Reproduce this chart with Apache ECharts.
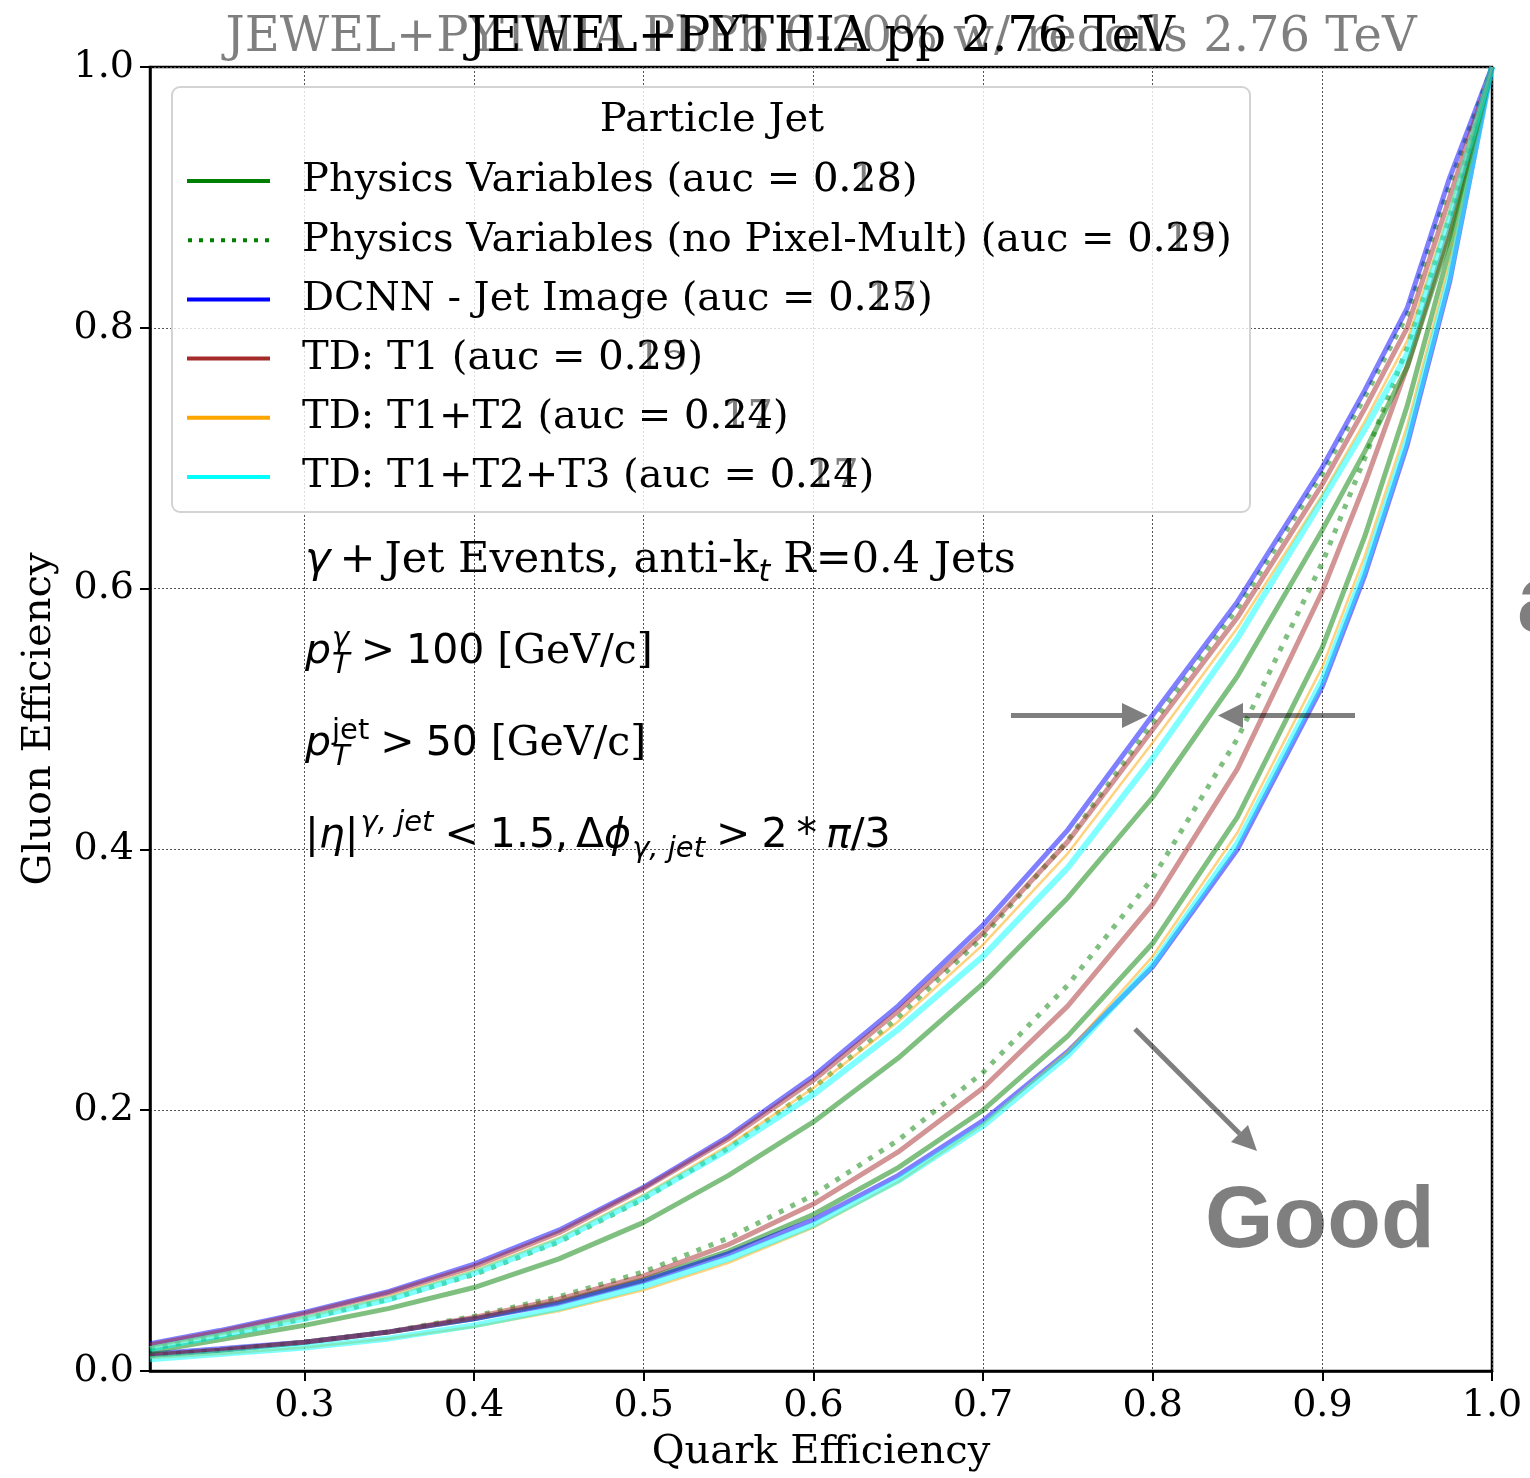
<!DOCTYPE html>
<html><head><meta charset="utf-8">
<script src="https://cdn.jsdelivr.net/npm/echarts@6/dist/echarts.min.js"></script>
<style>html,body{margin:0;padding:0;background:#fff}#c{width:1530px;height:1478px}</style>
</head><body><div id="c"></div>
<script>
// ---------------- data ----------------
const quarkEff = [0.209, 0.25, 0.3, 0.35, 0.4, 0.45, 0.5, 0.55, 0.6, 0.65, 0.7, 0.75, 0.8, 0.85, 0.9, 0.925, 0.95, 0.975, 1.0];

// upper group of curves
const pbpbPhys      = [0.015, 0.024, 0.035, 0.048, 0.064, 0.086, 0.114, 0.150, 0.191, 0.240, 0.297, 0.363, 0.440, 0.533, 0.645, 0.705, 0.770, 0.870, 1.0];
const pbpbPhysNoPix = [0.017, 0.027, 0.040, 0.055, 0.074, 0.099, 0.132, 0.171, 0.217, 0.271, 0.333, 0.407, 0.497, 0.585, 0.688, 0.747, 0.810, 0.910, 1.0];
const pbpbDCNN      = [0.021, 0.031, 0.045, 0.061, 0.082, 0.108, 0.141, 0.180, 0.226, 0.280, 0.342, 0.415, 0.503, 0.590, 0.693, 0.752, 0.815, 0.915, 1.0];
const pbpbT1        = [0.020, 0.030, 0.044, 0.060, 0.080, 0.106, 0.140, 0.178, 0.223, 0.276, 0.336, 0.406, 0.492, 0.578, 0.680, 0.738, 0.800, 0.900, 1.0];
const pbpbT12       = [0.018, 0.028, 0.041, 0.057, 0.077, 0.102, 0.135, 0.173, 0.217, 0.268, 0.327, 0.397, 0.482, 0.570, 0.672, 0.728, 0.790, 0.890, 1.0];
const pbpbT123      = [0.017, 0.027, 0.040, 0.055, 0.075, 0.100, 0.133, 0.170, 0.212, 0.262, 0.318, 0.386, 0.470, 0.562, 0.668, 0.722, 0.780, 0.885, 1.0];

// lower group of curves
const ppPhys      = [0.012, 0.016, 0.022, 0.030, 0.040, 0.053, 0.070, 0.092, 0.120, 0.156, 0.200, 0.257, 0.328, 0.425, 0.555, 0.640, 0.740, 0.860, 1.0];
const ppPhysNoPix = [0.012, 0.016, 0.022, 0.030, 0.042, 0.057, 0.076, 0.102, 0.135, 0.177, 0.229, 0.296, 0.378, 0.485, 0.620, 0.700, 0.785, 0.885, 1.0];
const ppDCNN      = [0.013, 0.017, 0.022, 0.030, 0.040, 0.052, 0.069, 0.090, 0.116, 0.150, 0.192, 0.245, 0.310, 0.400, 0.525, 0.610, 0.710, 0.835, 1.0];
const ppT1        = [0.012, 0.016, 0.022, 0.030, 0.041, 0.055, 0.073, 0.097, 0.128, 0.168, 0.217, 0.280, 0.358, 0.462, 0.598, 0.680, 0.770, 0.875, 1.0];
const ppT12       = [0.010, 0.013, 0.018, 0.025, 0.034, 0.046, 0.062, 0.083, 0.110, 0.145, 0.189, 0.245, 0.318, 0.413, 0.540, 0.625, 0.725, 0.850, 1.0];
const ppT123      = [0.009, 0.013, 0.018, 0.025, 0.035, 0.048, 0.065, 0.086, 0.112, 0.146, 0.188, 0.242, 0.312, 0.405, 0.530, 0.615, 0.715, 0.840, 1.0];

const legendNames = [
  'Physics Variables (auc = 0.28)',
  'Physics Variables (no Pixel-Mult) (auc = 0.29)',
  'DCNN - Jet Image (auc = 0.25)',
  'TD: T1 (auc = 0.29)',
  'TD: T1+T2 (auc = 0.24)',
  'TD: T1+T2+T3 (auc = 0.24)'
];
const ghostAuc = ['0.13', '0.15', '0.17', '0.15', '0.17', '0.17'];
const blackTitle = 'JEWEL+PYTHIA pp 2.76 TeV';
const grayTitle = 'JEWEL+PYTHIA PbPb 0-20% w/ recoils 2.76 TeV';
const tickFmt = v => v.toFixed(1);

// ---------------- chart ----------------
const chart = echarts.init(document.getElementById('c'), null, {renderer: 'canvas'});
const SERIF = "'DejaVu Serif'";
const SANS = "'DejaVu Sans'";
const GRAY = 'rgba(0,0,0,0.5)';

const styles = [
  {color: '#008000', width: 5, type: 'solid'},
  {color: '#008000', width: 5, type: [5, 8]},
  {color: '#0000ff', width: 5, type: 'solid'},
  {color: '#a52a2a', width: 5, type: 'solid'},
  {color: '#ffa500', width: 2.5, type: 'solid'},
  {color: '#00ffff', width: 6, type: 'solid'}
];
const pbpbSets = [pbpbPhys, pbpbPhysNoPix, pbpbDCNN, pbpbT1, pbpbT12, pbpbT123];
const ppSets = [ppPhys, ppPhysNoPix, ppDCNN, ppT1, ppT12, ppT123];

function mkSeries(name, ys, st) {
  return {
    type: 'line', name: name, data: quarkEff.map((x, i) => [x, ys[i]]),
    showSymbol: false, symbol: 'none', smooth: false, z: 2,
    itemStyle: {color: st.color},
    lineStyle: {color: st.color, width: st.width, type: st.type, opacity: 0.5, cap: 'butt'},
    emphasis: {disabled: true}, animation: false
  };
}
const series = [];
ppSets.forEach((ys, i) => series.push(mkSeries(legendNames[i], ys, styles[i])));
pbpbSets.forEach((ys, i) => series.push(mkSeries(legendNames[i], ys, styles[i])));

const dotIcon = 'path://M0,0h4v4h-4zM11,0h4v4h-4zM22,0h4v4h-4zM33,0h4v4h-4zM44,0h4v4h-4zM55,0h4v4h-4zM66,0h4v4h-4zM77,0h4v4h-4z';
const legendData = legendNames.map((n, i) => ({name: n, icon: i === 1 ? dotIcon : 'rect'}));

const mctx = document.createElement('canvas').getContext('2d');
function measure(t, font) { mctx.font = font; return mctx.measureText(t).width; }

const graphics = [];
let gid = 0;
function g(el) { el.id = 'g' + (gid++); graphics.push(el); }
g({type: 'rect', z: 3, shape: {x: 172, y: 87, width: 1078, height: 425, r: 8},
  style: {fill: 'rgba(255,255,255,0.8)', stroke: '#d3d3d3', lineWidth: 2}});
g({type: 'text', z: 10, x: 712, y: 121,
  style: {text: 'Particle Jet', font: '40px ' + SERIF, fill: '#000', align: 'center', verticalAlign: 'middle', textAlign: 'center', textVerticalAlign: 'middle'}});

function line(x0, base, frags) {
  let x = x0, lastStart = x0;
  frags.forEach(f => {
    const px = f.stack ? lastStart : x + (f.g || 0);
    const fs = f.s;
    const font = (f.it ? 'italic ' : '') + fs + 'px ' + (f.serif ? SERIF : SANS);
    g({type: 'text', z: 10, x: px, y: base + (f.b || 0) - 0.346 * fs,
      style: {text: f.t, font: font, fill: '#000', align: 'left', verticalAlign: 'middle', textAlign: 'left', textVerticalAlign: 'middle'}});
    const w = measure(f.t, font);
    if (!f.stack) { lastStart = px; x = px + w; } else { x = Math.max(x, px + w); }
  });
}
line(305, 576, [
  {t: 'γ', s: 43, it: true},
  {t: '+', s: 43, g: 9},
  {t: 'Jet Events, anti-k', s: 43, serif: true, g: 9},
  {t: 't', s: 30, it: true, b: 8},
  {t: 'R=0.4 Jets', s: 43, serif: true, g: 13}
]);
line(305, 667, [
  {t: 'p', s: 41, it: true},
  {t: 'T', s: 29, it: true, b: 9, g: 1},
  {t: 'γ', s: 29, it: true, b: -17, stack: true},
  {t: '>', s: 41, g: 11},
  {t: '100', s: 41, g: 11},
  {t: '[GeV/c]', s: 41, serif: true, g: 13}
]);
line(305, 759, [
  {t: 'p', s: 41, it: true},
  {t: 'T', s: 29, it: true, b: 9, g: 1},
  {t: 'jet', s: 29, b: -17, stack: true},
  {t: '>', s: 41, g: 11},
  {t: '50', s: 41, g: 11},
  {t: '[GeV/c]', s: 41, serif: true, g: 13}
]);
line(305, 851, [
  {t: '|', s: 41},
  {t: 'η', s: 41, it: true},
  {t: '|', s: 41},
  {t: 'γ, jet', s: 29, it: true, b: -17, g: 2},
  {t: '<', s: 41, g: 11},
  {t: '1.5,', s: 41, g: 11},
  {t: 'Δ', s: 41, g: 8},
  {t: 'ϕ', s: 41, it: true},
  {t: 'γ, jet', s: 29, it: true, b: 9, g: 1},
  {t: '>', s: 41, g: 11},
  {t: '2', s: 41, g: 11},
  {t: '*', s: 41, g: 9},
  {t: 'π', s: 41, it: true, g: 9},
  {t: '/3', s: 41}
]);

const arrowStyle = {stroke: GRAY, lineWidth: 5, lineCap: 'butt'};
g({type: 'line', z: 11, shape: {x1: 1011, y1: 715.5, x2: 1122, y2: 715.5}, style: arrowStyle});
g({type: 'polygon', z: 11, shape: {points: [[1122, 703], [1148, 715.5], [1122, 728]]}, style: {fill: GRAY}});
g({type: 'line', z: 11, shape: {x1: 1355, y1: 715.5, x2: 1243, y2: 715.5}, style: arrowStyle});
g({type: 'polygon', z: 11, shape: {points: [[1243, 703], [1218, 715.5], [1243, 728]]}, style: {fill: GRAY}});
g({type: 'line', z: 11, shape: {x1: 1135, y1: 1029, x2: 1239.5, y2: 1133.5}, style: arrowStyle});
g({type: 'polygon', z: 11, shape: {points: [[1231, 1142], [1248, 1125], [1257, 1151]]}, style: {fill: GRAY}});
g({type: 'text', z: 11, x: 1205, y: 1253 - 0.3465 * 88,
  style: {text: 'Good', font: 'bold 88px "Liberation Sans"', fill: GRAY, align: 'left', verticalAlign: 'middle', textAlign: 'left', textVerticalAlign: 'middle'}});
g({type: 'text', z: 11, x: 1517, y: 638 - 0.3465 * 96,
  style: {text: 'a', font: 'bold 96px "Liberation Sans"', fill: GRAY, align: 'left', verticalAlign: 'middle', textAlign: 'left', textVerticalAlign: 'middle'}});

const axisFont = {fontFamily: 'DejaVu Serif', fontSize: 38, color: '#000'};
chart.setOption({
  animation: false,
  backgroundColor: '#fff',
  title: [
    {text: grayTitle, left: 821, top: 15, textAlign: 'center', padding: 0,
     textStyle: {fontFamily: 'DejaVu Serif', fontSize: 48, fontWeight: 'normal', color: GRAY, lineHeight: 48}},
    {text: blackTitle, left: 821, top: 15, textAlign: 'center', padding: 0,
     textStyle: {fontFamily: 'DejaVu Serif', fontSize: 48, fontWeight: 'normal', color: '#000', lineHeight: 48}}
  ],
  grid: {left: 150, right: 38, top: 67, bottom: 107, outerBoundsMode: 'none', containLabel: false,
    show: true, borderColor: '#000', borderWidth: 2.5, backgroundColor: 'transparent'},
  legend: {
    orient: 'vertical', left: 187, top: 161, padding: 0, itemWidth: 83, itemHeight: 4, itemGap: 19.2,
    data: legendData, selectedMode: false, z: 5,
    textStyle: {fontFamily: 'DejaVu Serif', fontSize: 40, color: '#000', lineHeight: 40, padding: [0, 0, 0, 27]},
    itemStyle: {opacity: 1}
  },
  xAxis: {
    type: 'value', min: 0.209, max: 1.0, splitNumber: 8,
    name: 'Quark Efficiency', nameLocation: 'middle', nameGap: 62,
    nameTextStyle: {fontFamily: 'DejaVu Serif', fontSize: 40, color: '#000'},
    axisLabel: Object.assign({showMinLabel: false, showMaxLabel: true, margin: 16, formatter: tickFmt}, axisFont),
    axisLine: {lineStyle: {color: '#000', width: 2.5}},
    axisTick: {length: 10, inside: false, lineStyle: {color: '#000', width: 2}},
    splitLine: {show: true, lineStyle: {color: '#555', width: 1, type: [2, 2]}}
  },
  yAxis: {
    type: 'value', min: 0, max: 1, interval: 0.2,
    name: 'Gluon Efficiency', nameLocation: 'middle', nameGap: 90, nameRotate: 90,
    nameTextStyle: {fontFamily: 'DejaVu Serif', fontSize: 40, color: '#000'},
    axisLabel: Object.assign({margin: 16, formatter: tickFmt}, axisFont),
    axisLine: {lineStyle: {color: '#000', width: 2.5}},
    axisTick: {length: 10, inside: false, lineStyle: {color: '#000', width: 2}},
    splitLine: {show: true, lineStyle: {color: '#555', width: 1, type: [2, 2]}}
  },
  series: series,
  graphic: {elements: graphics}
});

// ghost auc digits of the second overlaid figure, placed exactly on the legend texts
(function addGhosts() {
  const zr = chart.getZr();
  let list = [];
  try { list = zr.storage.getDisplayList(true); } catch (e) { list = []; }
  legendNames.forEach((n, i) => {
    let gx = 302, gy = 178 + 59.2 * i, font = '40px ' + SERIF, va = 'middle';
    const el = list.find(e => e.style && e.style.text === n);
    if (el) {
      const m = el.transform;
      let x = el.style.x || 0, y = el.style.y || 0;
      if (m) { const nx = m[0] * x + m[2] * y + m[4]; const ny = m[1] * x + m[3] * y + m[5]; x = nx; y = ny; }
      gx = x; gy = y; font = el.style.font || font;
      const tb = el.style.textBaseline;
      va = (tb === 'top' || tb === 'bottom') ? tb : 'middle';
    }
    const prefix = n.slice(0, n.lastIndexOf('0.'));
    zr.add(new echarts.graphic.Text({z: 100, silent: true,
      style: {text: ghostAuc[i], x: gx + measure(prefix, font), y: gy, font: font, fill: GRAY, align: 'left', verticalAlign: va}}));
  });
})();
</script>
</body></html>
